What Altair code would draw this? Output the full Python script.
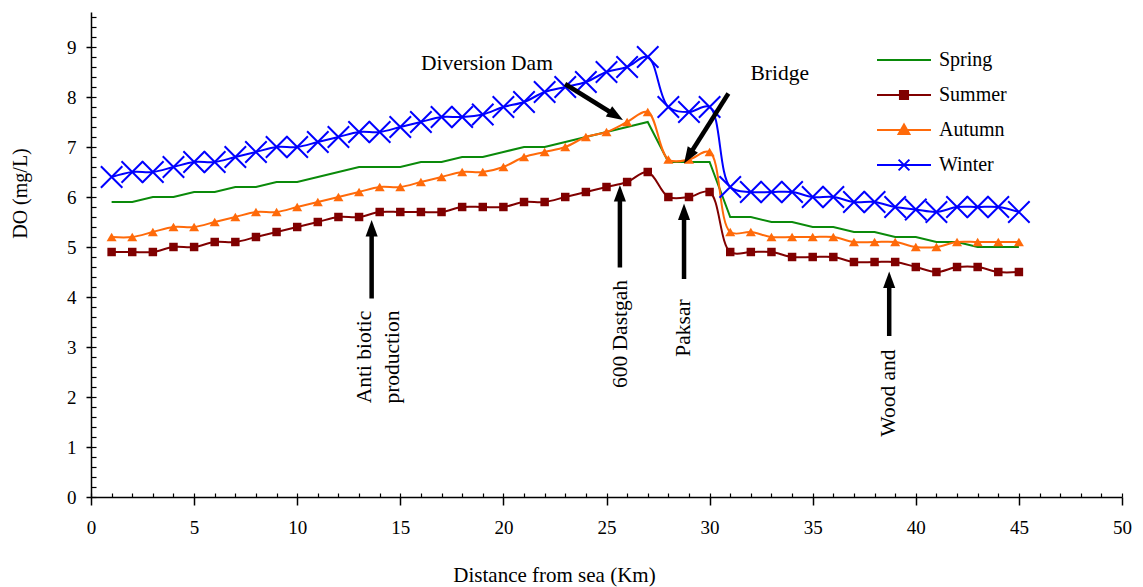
import math
import altair as alt
import pandas as pd

# ---------------- data ----------------
km = list(range(1, 46))
spring = [5.9, 5.9, 6.0, 6.0, 6.1, 6.1, 6.2, 6.2, 6.3, 6.3,
          6.4, 6.5, 6.6, 6.6, 6.6, 6.7, 6.7, 6.8, 6.8, 6.9,
          7.0, 7.0, 7.1, 7.2, 7.3, 7.4, 7.5, 6.7, 6.7, 6.7,
          5.6, 5.6, 5.5, 5.5, 5.4, 5.4, 5.3, 5.3, 5.2, 5.2,
          5.1, 5.1, 5.0, 5.0, 5.0]
summer = [4.9, 4.9, 4.9, 5.0, 5.0, 5.1, 5.1, 5.2, 5.3, 5.4,
          5.5, 5.6, 5.6, 5.7, 5.7, 5.7, 5.7, 5.8, 5.8, 5.8,
          5.9, 5.9, 6.0, 6.1, 6.2, 6.3, 6.5, 6.0, 6.0, 6.1,
          4.9, 4.9, 4.9, 4.8, 4.8, 4.8, 4.7, 4.7, 4.7, 4.6,
          4.5, 4.6, 4.6, 4.5, 4.5]
autumn = [5.2, 5.2, 5.3, 5.4, 5.4, 5.5, 5.6, 5.7, 5.7, 5.8,
          5.9, 6.0, 6.1, 6.2, 6.2, 6.3, 6.4, 6.5, 6.5, 6.6,
          6.8, 6.9, 7.0, 7.2, 7.3, 7.5, 7.7, 6.75, 6.75, 6.9,
          5.3, 5.3, 5.2, 5.2, 5.2, 5.2, 5.1, 5.1, 5.1, 5.0,
          5.0, 5.1, 5.1, 5.1, 5.1]
winter = [6.4, 6.5, 6.5, 6.6, 6.7, 6.7, 6.8, 6.9, 7.0, 7.0,
          7.1, 7.2, 7.3, 7.3, 7.4, 7.5, 7.6, 7.6, 7.65, 7.8,
          7.9, 8.1, 8.2, 8.3, 8.5, 8.6, 8.8, 7.8, 7.7, 7.8,
          6.2, 6.1, 6.1, 6.1, 6.0, 6.0, 5.9, 5.9, 5.8, 5.75,
          5.7, 5.8, 5.8, 5.8, 5.7]

seasons = ["Spring", "Summer", "Autumn", "Winter"]
colors = ["#0a8a0a", "#800000", "#ff6a0a", "#0000ff"]

x_major = list(range(0, 51, 5))
x_minor = list(range(0, 51, 1))
y_major = list(range(0, 10))
y_minor = [round(i * 0.2, 1) for i in range(0, 49)]

# annotations (data units)
ann_text = ["Diversion Dam", "Bridge", "Anti biotic\nproduction", "600  Dastgah", "Paksar", "Wood and"]
ann_x = [19.2, 33.4, 13.3, 25.7, 28.76, 38.7]
ann_y = [8.66, 8.46, 2.8, 3.26, 3.38, 2.08]
ann_angle = [0, 0, 270, 270, 270, 270]

arr_x0 = [13.61, 25.65, 28.76, 38.71, 22.99, 30.91]
arr_y0 = [3.97, 4.59, 4.36, 3.22, 8.26, 8.07]
arr_x1 = [13.61, 25.65, 28.76, 38.71, 25.80, 28.76]
arr_y1 = [5.54, 6.24, 5.87, 4.51, 7.54, 6.67]

# ---------------- layout ----------------
FONT = "Liberation Serif"
W, H = 1031, 485
XD = [0, 50]
YD = [0, 9.7]
px_x = W / (XD[1] - XD[0])
px_y = H / (YD[1] - YD[0])

rows = []
for s, vals in zip(seasons, [spring, summer, autumn, winter]):
    for k, v in zip(km, vals):
        rows.append({"km": k, "DO": v, "season": s})
df = pd.DataFrame(rows)

ann_df = pd.DataFrame({"x": ann_x, "y": ann_y, "t": ann_text, "ang": ann_angle})

arows = []
for xs, ys, xt, yt in zip(arr_x0, arr_y0, arr_x1, arr_y1):
    dxp = (xt - xs) * px_x
    dyp = -(yt - ys) * px_y
    L = math.hypot(dxp, dyp)
    ux, uy = dxp / L, dyp / L
    back = 10.0
    xe = xt - back * ux / px_x
    ye = yt + back * uy / px_y
    ang = math.degrees(math.atan2(dxp, -dyp)) % 360
    arows.append({"xs": xs, "ys": ys, "xe": xe, "ye": ye, "xt": xt, "yt": yt, "ang": ang})
arr_df = pd.DataFrame(arows)

xs_ = alt.Scale(domain=XD, nice=False, zero=False)
ys_ = alt.Scale(domain=YD, nice=False, zero=False)

base = alt.Chart(df)

def X(axis=None):
    return alt.X("km:Q", scale=xs_, axis=axis)

def Y(axis=None):
    return alt.Y("DO:Q", scale=ys_, axis=axis)

x_axis_main = alt.Axis(values=x_major, tickSize=8, tickWidth=1.5, domainWidth=1.5,
                       labelPadding=13, labelFontSize=19, labelFont=FONT, labelFlush=False,
                       labelOverlap=False,
                       title="Distance from sea (Km)", titleFont=FONT, titleFontSize=21,
                       titleFontWeight="normal", titleX=463, titleY=78,
                       titleBaseline="middle", titleAlign="center",
                       grid=False, orient="bottom", format="d")
y_axis_main = alt.Axis(values=y_major, tickSize=5, tickWidth=1.5, domainWidth=1.5,
                       labelPadding=10, labelFontSize=19, labelFont=FONT, labelFlush=False,
                       labelOverlap=False,
                       title="DO (mg/L)", titleFont=FONT, titleFontSize=20,
                       titleFontWeight="normal", titleX=-71, titleY=181, titleAngle=270,
                       titleBaseline="middle", titleAlign="center",
                       grid=False, orient="left", format="d")
x_axis_in = alt.Axis(values=x_minor, tickSize=4, tickWidth=1.2, offset=-4, domain=False,
                     labels=False, title=None, grid=False, orient="bottom")
y_axis_in = alt.Axis(values=y_minor, tickSize=5, tickWidth=1.2, offset=-5, domain=False,
                     labels=False, title=None, grid=False, orient="left")

inner = base.mark_point(opacity=0).encode(x=X(x_axis_in), y=Y(y_axis_in))

def sel(s):
    return base.transform_filter(alt.datum.season == s)

spring_line = sel("Spring").mark_line(color=colors[0], strokeWidth=2).encode(
    x=X(x_axis_main), y=Y(y_axis_main))
summer_line = sel("Summer").mark_line(color=colors[1], strokeWidth=2, interpolate="catmull-rom").encode(x=X(), y=Y())
summer_pts = sel("Summer").mark_point(shape="square", filled=True, size=72, color=colors[1], opacity=1).encode(x=X(), y=Y())
autumn_line = sel("Autumn").mark_line(color=colors[2], strokeWidth=2, interpolate="catmull-rom").encode(x=X(), y=Y())
autumn_pts = sel("Autumn").mark_point(shape="triangle-up", filled=True, size=100, color=colors[2], opacity=1).encode(x=X(), y=Y())
winter_line = sel("Winter").mark_line(color=colors[3], strokeWidth=2, interpolate="catmull-rom").encode(x=X(), y=Y())
winter_pts = sel("Winter").mark_point(shape="M-1,-1L1,1M-1,1L1,-1", filled=False, size=460,
                                      color=colors[3], strokeWidth=2, opacity=1).encode(x=X(), y=Y())

shafts = alt.Chart(arr_df).mark_rule(color="black", strokeWidth=4.5).encode(
    x=alt.X("xs:Q", scale=xs_, axis=None), y=alt.Y("ys:Q", scale=ys_, axis=None),
    x2="xe:Q", y2="ye:Q")
heads = alt.Chart(arr_df).mark_point(shape="M0,0L0.55,1.5L-0.55,1.5Z", filled=True, size=484,
                                     color="black", opacity=1).encode(
    x=alt.X("xt:Q", scale=xs_, axis=None), y=alt.Y("yt:Q", scale=ys_, axis=None),
    angle=alt.Angle("ang:Q", scale=None))

texts = alt.Chart(ann_df).mark_text(font=FONT, fontSize=21.5, color="black", align="center",
                                    baseline="middle", lineBreak="\n", lineHeight=28).encode(
    x=alt.X("x:Q", scale=xs_, axis=None), y=alt.Y("y:Q", scale=ys_, axis=None),
    text="t:N", angle=alt.Angle("ang:Q", scale=None))

leg_paths = [
    "M-3,0L3,0",
    "M-3,0L3,0M-0.45,-0.45L0.45,-0.45L0.45,0.45L-0.45,0.45Z",
    "M-3,0L3,0M0,-0.6L0.6,0.45L-0.6,0.45Z",
    "M-3,0L3,0M-0.6,-0.6L0.6,0.6M-0.6,0.6L0.6,-0.6",
]
leg = alt.Legend(orient="none", legendX=803, legendY=38, title=None, symbolSize=324,
                 symbolStrokeWidth=2, labelOffset=25, rowPadding=15, padding=0,
                 labelFont=FONT, labelFontSize=20, labelColor="black", labelLimit=0)
legend_layer = base.transform_filter("datum.km < 0").mark_point(filled=True, strokeWidth=2, opacity=1).encode(
    x=X(), y=Y(),
    fill=alt.Fill("season:N", scale=alt.Scale(domain=seasons, range=colors), legend=leg),
    stroke=alt.Stroke("season:N", scale=alt.Scale(domain=seasons, range=colors), legend=leg),
    shape=alt.Shape("season:N", scale=alt.Scale(domain=seasons, range=leg_paths), legend=leg),
)

chart = alt.layer(
    inner, spring_line, summer_line, summer_pts, autumn_line, autumn_pts,
    winter_line, winter_pts, shafts, heads, texts, legend_layer
).resolve_axis(x="independent", y="independent").properties(
    width=W, height=H,
    padding={"left": 91, "top": 12, "right": 21, "bottom": 90},
    autosize=alt.AutoSizeParams(type="none"),
).configure_view(stroke=None).configure_axis(
    domainColor="black", tickColor="black", labelColor="black", titleColor="black"
)

chart.save("out.html", embed_options={"renderer": "svg", "actions": False})
